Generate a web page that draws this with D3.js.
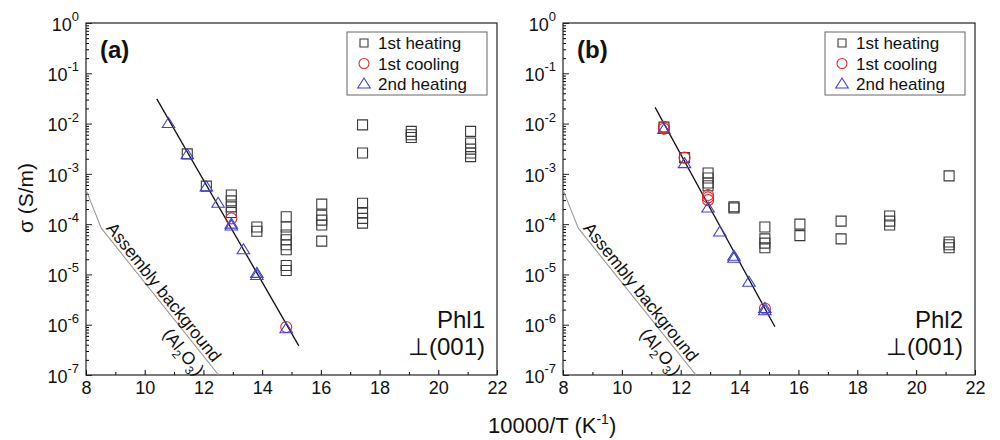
<!DOCTYPE html>
<html>
<head>
<meta charset="utf-8">
<script src="https://cdn.jsdelivr.net/npm/d3@7"></script>
<style>
  body { margin: 0; background: #fff; }
  text { font-family: "Liberation Sans", Arial, sans-serif; fill: #111; }
</style>
</head>
<body>
<div id="chart"></div>
<script>
// ---- data: [10000/T, sigma (S/m)] ----
const heat1A = [
  [11.45, 2.5e-3], [12.1, 5.7e-4],
  [12.95, 3.8e-4], [12.95, 2.9e-4], [12.95, 2.2e-4], [12.95, 1.7e-4],
  [13.82, 8.8e-5], [13.82, 7.2e-5],
  [14.82, 1.4e-4], [14.82, 8.8e-5], [14.82, 6.1e-5], [14.82, 4.9e-5],
  [14.82, 3.9e-5], [14.82, 3.1e-5], [14.82, 1.5e-5], [14.82, 1.2e-5],
  [16.03, 2.5e-4], [16.03, 1.5e-4], [16.03, 1.2e-4], [16.03, 9.6e-5], [16.03, 4.6e-5],
  [17.42, 9.4e-3], [17.42, 2.6e-3], [17.42, 2.6e-4], [17.42, 1.7e-4],
  [17.42, 1.3e-4], [17.42, 1.05e-4],
  [19.08, 7.0e-3], [19.08, 6.0e-3], [19.08, 5.3e-3],
  [21.1, 7.0e-3], [21.1, 4.1e-3], [21.1, 3.1e-3], [21.1, 2.6e-3], [21.1, 2.2e-3]
];
const cool1A = [[12.95, 1.3e-4], [14.82, 9.0e-7]];
const heat2A = [
  [10.81, 1.0e-2], [11.45, 2.4e-3], [12.1, 5.5e-4], [12.5, 2.6e-4],
  [12.95, 1.0e-4], [12.95, 9.2e-5], [13.36, 3.1e-5],
  [13.82, 1.05e-5], [13.82, 9.5e-6], [14.82, 8.3e-7]
];
const fitA = [[10.41, 3.1e-2], [15.25, 3.8e-7]];

const heat1B = [
  [11.43, 8.5e-3], [12.13, 2.1e-3],
  [12.93, 1.04e-3], [12.93, 8.3e-4], [12.93, 6.6e-4], [12.93, 5.8e-4],
  [13.81, 2.2e-4], [13.81, 2.1e-4],
  [14.86, 8.8e-5], [14.86, 5.1e-5], [14.86, 4.2e-5], [14.86, 3.4e-5],
  [16.05, 1.0e-4], [16.05, 5.9e-5],
  [17.45, 1.15e-4], [17.45, 5.1e-5],
  [19.1, 1.45e-4], [19.1, 1.15e-4], [19.1, 9.6e-5],
  [21.12, 9.1e-4], [21.12, 4.4e-5], [21.12, 3.9e-5], [21.12, 3.4e-5]
];
const cool1B = [
  [11.43, 8.6e-3], [11.43, 7.9e-3], [12.13, 2.1e-3],
  [12.93, 3.8e-4], [12.93, 3.4e-4], [12.93, 3.0e-4], [14.86, 2.1e-6]
];
const heat2B = [
  [11.43, 7.6e-3], [12.13, 1.6e-3], [12.93, 2.1e-4], [13.33, 7.0e-5],
  [13.81, 2.3e-5], [13.81, 2.1e-5], [14.32, 7.0e-6], [14.86, 2.1e-6], [14.86, 1.9e-6]
];
const fitB = [[11.13, 2.1e-2], [15.2, 9.1e-7]];

// Al2O3 assembly background (same in both panels)
const background = [[8.0, 4.8e-4], [8.52, 8.3e-5], [12.6, 8.7e-8]];

const seriesNames = ["1st heating", "1st cooling", "2nd heating"];
const xTicks = [8, 10, 12, 14, 16, 18, 20, 22];
const xMinor = [9, 11, 13, 15, 17, 19, 21];
const yExponents = [0, -1, -2, -3, -4, -5, -6, -7];

const colors = {sq: "#3a3a3a", circ: "#e3292d", tri: "#4141d4"};

const svg = d3.select("#chart").append("svg")
  .attr("width", 1000)
  .attr("height", 440);

const plotTop = 23, plotBottom = 375;
const y = d3.scaleLog().domain([1e-7, 1]).range([plotBottom, plotTop]);

// marker paths centred on (0,0)
function markerPath(kind, s) {
  if (kind === "sq") return `M${-s/2},${-s/2}h${s}v${s}h${-s}Z`;
  if (kind === "circ") {
    const r = s / 2;
    return `M${r},0A${r},${r} 0 1,1 ${-r},0A${r},${r} 0 1,1 ${r},0Z`;
  }
  const w = s * 1.25, h = s;
  return `M0,${-h*0.6}L${w/2},${h*0.4}L${-w/2},${h*0.4}Z`;
}

function drawPanel(p) {
  const x = d3.scaleLinear().domain([8, 22]).range([p.left, p.right]);
  const g = svg.append("g");

  const clipId = "clip" + p.tag;
  svg.append("clipPath").attr("id", clipId)
    .append("rect")
    .attr("x", p.left).attr("y", plotTop)
    .attr("width", p.right - p.left).attr("height", plotBottom - plotTop);

  // y axis: major and minor log ticks, pointing inward
  const minorVals = [];
  yExponents.forEach(e => {
    if (e < 0) for (let k = 2; k <= 9; k++) minorVals.push(k * Math.pow(10, e));
  });
  g.append("g")
    .attr("transform", `translate(${p.left},0)`)
    .call(d3.axisLeft(y).tickValues(minorVals).tickSize(-3).tickSizeOuter(0).tickFormat(""))
    .call(a => a.select(".domain").remove());
  const yAx = g.append("g")
    .attr("transform", `translate(${p.left},0)`)
    .call(d3.axisLeft(y)
      .tickValues(yExponents.map(e => Math.pow(10, e)))
      .tickSize(-6).tickSizeOuter(0).tickPadding(7).tickFormat(""));
  yAx.select(".domain").remove();
  yAx.selectAll(".tick").each(function(d) {
    const t = d3.select(this).select("text")
      .attr("font-size", 18).attr("dy", "0.4em");
    t.append("tspan").text("10");
    t.append("tspan").attr("font-size", 13).attr("dy", "-0.75em")
      .text(Math.round(Math.log10(d)));
  });
  yAx.selectAll("line").attr("stroke", "#222");

  // x axis
  g.append("g")
    .attr("transform", `translate(0,${plotBottom})`)
    .call(d3.axisBottom(x).tickValues(xMinor).tickSize(-3).tickSizeOuter(0).tickFormat(""))
    .call(a => a.select(".domain").remove());
  const xAx = g.append("g")
    .attr("transform", `translate(0,${plotBottom})`)
    .call(d3.axisBottom(x).tickValues(xTicks).tickSize(-5).tickSizeOuter(0).tickPadding(6));
  xAx.select(".domain").remove();
  xAx.selectAll("text").attr("font-size", 18).attr("fill", "#111");

  // frame
  g.append("rect")
    .attr("x", p.left).attr("y", plotTop)
    .attr("width", p.right - p.left).attr("height", plotBottom - plotTop)
    .attr("fill", "none").attr("stroke", "#222").attr("stroke-width", 1.2);

  const line = d3.line().x(d => x(d[0])).y(d => y(d[1]));

  // background line + label
  g.append("path")
    .datum(background)
    .attr("clip-path", `url(#${clipId})`)
    .attr("d", line)
    .attr("fill", "none").attr("stroke", "#9a9a9a").attr("stroke-width", 1.1);

  const p1 = [x(background[1][0]), y(background[1][1])];
  const p2 = [x(background[2][0]), y(background[2][1])];
  const ang = Math.atan2(p2[1] - p1[1], p2[0] - p1[0]) * 180 / Math.PI;
  const lab = g.append("g")
    .attr("transform", `translate(${p1[0]},${p1[1]}) rotate(${ang})`);
  lab.append("text")
    .attr("x", 89).attr("y", -3)
    .attr("text-anchor", "middle").attr("font-size", 17.5).attr("fill", "#222")
    .text("Assembly background");
  const al = lab.append("text")
    .attr("x", 148).attr("y", 19)
    .attr("text-anchor", "middle").attr("font-size", 17.5).attr("fill", "#222");
  al.append("tspan").text("(Al");
  al.append("tspan").attr("font-size", 12).attr("dy", 5).text("2");
  al.append("tspan").attr("dy", -5).text("O");
  al.append("tspan").attr("font-size", 12).attr("dy", 5).text("3");
  al.append("tspan").attr("dy", -5).text(")");

  // fitted line
  g.append("path")
    .datum(p.fit)
    .attr("d", line)
    .attr("fill", "none").attr("stroke", "#111").attr("stroke-width", 1.3);

  // markers
  const sets = [
    {data: p.heat1, kind: "sq", size: 10},
    {data: p.cool1, kind: "circ", size: 11},
    {data: p.heat2, kind: "tri", size: 10}
  ];
  sets.forEach(s => {
    g.append("g").selectAll("path")
      .data(s.data)
      .join("path")
      .attr("transform", d => `translate(${x(d[0])},${y(d[1])})`)
      .attr("d", markerPath(s.kind, s.size))
      .attr("fill", "none")
      .attr("stroke", colors[s.kind])
      .attr("stroke-width", 1.1);
  });

  // legend
  const lx = p.right - 150, ly = 32;
  g.append("rect")
    .attr("x", lx).attr("y", ly).attr("width", 140).attr("height", 63)
    .attr("fill", "#fff").attr("stroke", "#666").attr("stroke-width", 1);
  seriesNames.forEach((name, i) => {
    const kind = ["sq", "circ", "tri"][i];
    const cy = ly + 11 + i * 20.5;
    g.append("path")
      .attr("transform", `translate(${lx + 17},${cy})`)
      .attr("d", markerPath(kind, kind === "sq" ? 8 : 10))
      .attr("fill", "none").attr("stroke", colors[kind]).attr("stroke-width", 1.1);
    g.append("text")
      .attr("x", lx + 31).attr("y", cy + 6)
      .attr("font-size", 17)
      .text(name);
  });

  // panel letter and sample labels
  g.append("text")
    .attr("x", p.left + 14).attr("y", 58)
    .attr("font-size", 24).attr("font-weight", "bold")
    .text(p.letter);
  g.append("text")
    .attr("x", p.right - 12).attr("y", 328)
    .attr("text-anchor", "end").attr("font-size", 24)
    .text(p.sample);
  g.append("text")
    .attr("x", p.right - 12).attr("y", 355)
    .attr("text-anchor", "end").attr("font-size", 24)
    .text("\u22A5(001)");
}

drawPanel({tag: "a", left: 86, right: 497, letter: "(a)", sample: "Phl1",
  heat1: heat1A, cool1: cool1A, heat2: heat2A, fit: fitA});
drawPanel({tag: "b", left: 563, right: 975, letter: "(b)", sample: "Phl2",
  heat1: heat1B, cool1: cool1B, heat2: heat2B, fit: fitB});

// axis titles
const xt = svg.append("text")
  .attr("x", 488).attr("y", 433)
  .attr("text-anchor", "start").attr("font-size", 22);
xt.append("tspan").text("10000/T (K");
xt.append("tspan").attr("font-size", 14).attr("dy", -9).text("-1");
xt.append("tspan").attr("dy", 9).text(")");

svg.append("text")
  .attr("transform", "translate(33,198) rotate(-90)")
  .attr("text-anchor", "middle").attr("font-size", 21)
  .text("\u03C3 (S/m)");
</script>
</body>
</html>
